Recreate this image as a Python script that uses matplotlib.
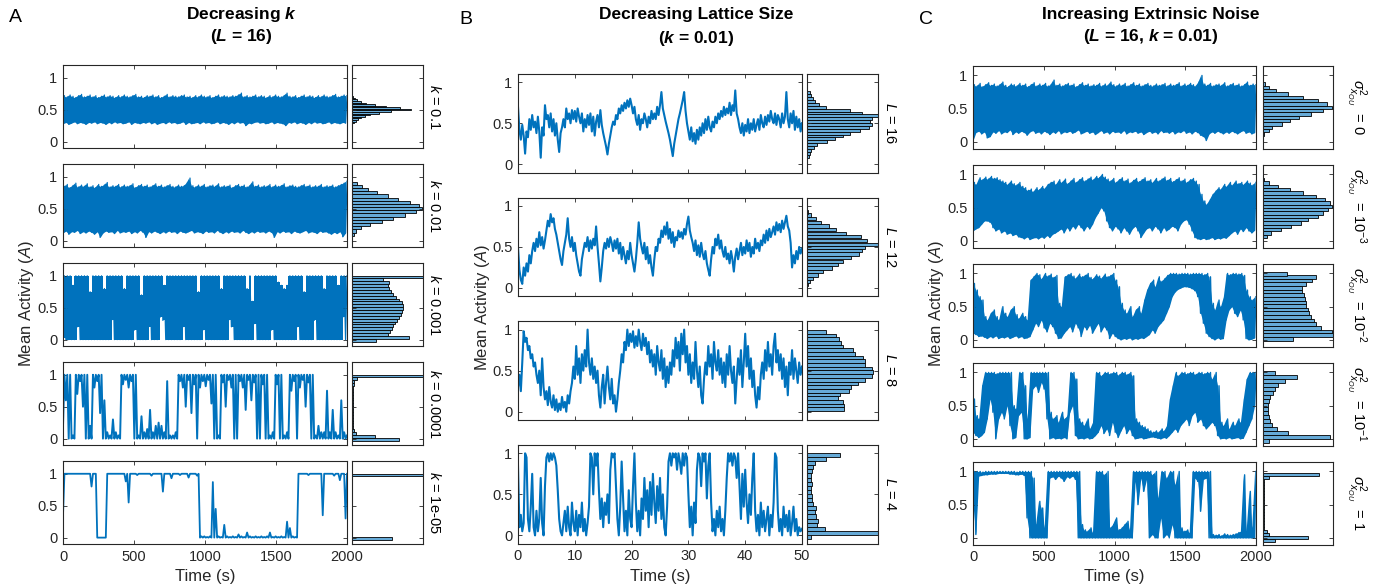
import matplotlib
matplotlib.use('Agg')
import matplotlib.pyplot as plt
import numpy as np

plt.rcParams['font.family'] = ['Liberation Sans', 'DejaVu Sans']
plt.rcParams['mathtext.fontset'] = 'custom'
plt.rcParams['mathtext.rm'] = 'Liberation Sans'
plt.rcParams['mathtext.it'] = 'Liberation Sans:italic'
plt.rcParams['mathtext.bf'] = 'Liberation Sans:bold'
plt.rcParams['mathtext.bfit'] = 'Liberation Sans:bold:italic'

# ---------------- DATA ----------------
# Column A: decreasing k (L = 16); min/max envelope of the trace in 20 s bins (0-2000 s)
A1_lo = [0.28,0.30,0.27,0.29,0.31,0.28,0.30,0.29,0.27,0.30,
         0.29,0.31,0.28,0.30,0.29,0.27,0.30,0.28,0.31,0.29,
         0.30,0.28,0.29,0.31,0.27,0.30,0.29,0.28,0.30,0.29,
         0.31,0.28,0.30,0.27,0.29,0.30,0.28,0.31,0.29,0.30,
         0.28,0.29,0.31,0.27,0.30,0.28,0.29,0.30,0.28,0.31,
         0.29,0.30,0.28,0.29,0.31,0.28,0.30,0.29,0.27,0.30,
         0.28,0.31,0.29,0.30,0.25,0.29,0.28,0.30,0.31,0.29,
         0.30,0.28,0.29,0.31,0.28,0.30,0.29,0.28,0.25,0.30,
         0.29,0.31,0.28,0.30,0.29,0.27,0.30,0.28,0.31,0.29,
         0.30,0.28,0.29,0.31,0.28,0.30,0.29,0.28,0.30,0.29]
A1_hi = [0.72,0.70,0.73,0.71,0.69,0.72,0.74,0.70,0.71,0.73,
         0.70,0.72,0.69,0.71,0.73,0.70,0.72,0.71,0.69,0.72,
         0.70,0.73,0.71,0.70,0.72,0.74,0.70,0.71,0.69,0.72,
         0.71,0.73,0.70,0.72,0.69,0.71,0.74,0.70,0.72,0.71,
         0.70,0.72,0.73,0.70,0.71,0.69,0.72,0.70,0.73,0.71,
         0.70,0.72,0.69,0.71,0.73,0.70,0.72,0.71,0.70,0.72,
         0.71,0.73,0.76,0.70,0.72,0.70,0.71,0.73,0.70,0.72,
         0.71,0.69,0.72,0.70,0.73,0.71,0.70,0.72,0.76,0.71,
         0.70,0.72,0.69,0.71,0.73,0.70,0.72,0.71,0.69,0.72,
         0.70,0.73,0.71,0.70,0.72,0.74,0.70,0.71,0.73,0.72]
A2_lo = [0.12,0.15,0.10,0.14,0.13,0.16,0.11,0.14,0.12,0.15,
         0.13,0.10,0.14,0.05,0.12,0.15,0.13,0.14,0.11,0.16,
         0.12,0.14,0.13,0.15,0.11,0.14,0.12,0.16,0.13,0.05,
         0.14,0.12,0.15,0.13,0.11,0.14,0.12,0.15,0.13,0.14,
         0.11,0.15,0.13,0.12,0.14,0.16,0.12,0.14,0.13,0.11,
         0.15,0.13,0.14,0.12,0.16,0.13,0.11,0.14,0.12,0.15,
         0.13,0.14,0.12,0.16,0.13,0.11,0.14,0.12,0.15,0.13,
         0.14,0.12,0.15,0.13,0.05,0.14,0.12,0.15,0.13,0.14,
         0.11,0.15,0.13,0.12,0.14,0.16,0.12,0.14,0.13,0.11,
         0.15,0.13,0.14,0.12,0.10,0.13,0.11,0.14,0.06,0.12]
A2_hi = [0.85,0.88,0.83,0.86,0.90,0.84,0.87,0.85,0.89,0.84,
         0.86,0.83,0.88,0.85,0.87,0.91,0.84,0.86,0.85,0.88,
         0.84,0.87,0.85,0.86,0.89,0.83,0.86,0.88,0.85,0.87,
         0.84,0.86,0.89,0.85,0.87,0.84,0.86,0.88,0.85,0.84,
         0.87,0.85,0.86,0.90,0.98,0.86,0.84,0.87,0.85,0.88,
         0.84,0.86,0.87,0.85,0.89,0.84,0.86,0.85,0.87,0.83,
         0.86,0.88,0.85,0.87,0.84,0.86,0.92,0.85,0.87,0.84,
         0.86,0.85,0.88,0.84,0.87,0.85,0.86,0.89,0.84,0.86,
         0.87,0.85,0.84,0.86,0.88,0.85,0.87,0.84,0.86,0.85,
         0.88,0.84,0.86,0.85,0.87,0.84,0.86,0.88,0.90,0.93]
A3_lo = [0.02,0,0,0,0,0.2,0,0,0,0,
         0,0,0,0,0,0,0,0.3,0,0,
         0,0,0,0,0,0.15,0,0,0,0,
         0.2,0,0,0,0.35,0.3,0,0,0,0,
         0,0,0.2,0,0,0,0,0,0,0.15,
         0,0,0,0,0,0,0,0,0.3,0.2,
         0,0,0,0,0,0,0,0.25,0,0,
         0,0,0,0.15,0,0,0,0,0,0,
         0,0,0.2,0,0,0,0,0,0.3,0,
         0,0,0,0,0,0,0,0,0.35,0]
A3_hi = [1,1,1,0.85,1,1,1,1,1,0.75,
         1,1,1,1,0.8,1,1,1,1,1,
         1,0.8,1,1,1,1,1,0.7,1,1,
         1,1,1,1,1,0.85,1,1,1,1,
         1,1,1,1,1,1,1,0.75,1,1,
         1,1,1,1,1,0.8,1,1,1,1,
         1,1,1,1,0.8,1,0.6,1,1,1,
         1,1,1,1,1,0.9,0.85,0.8,0.85,1,
         1,1,1,1,0.75,1,1,1,1,1,
         1,0.8,1,1,1,1,0.85,1,1,1]
A4_lo = [0.2,0.6,0.0,0.0,0.0,0.7,0.9,0.5,0.0,0.0,
         0.0,0.8,0.9,0.4,0.0,0.0,0.0,0.0,0.0,0.0,
         0.0,0.85,0.92,0.8,0.9,0.0,0.0,0.0,0.0,0.0,
         0.0,0.0,0.0,0.0,0.0,0.0,0.0,0.0,0.0,0.0,
         0.0,0.9,0.8,0.5,0.92,0.4,0.85,0.0,0.8,0.9,
         0.82,0.92,0.55,0.0,0.0,0.0,0.88,0.5,0.92,0.8,
         0.0,0.0,0.9,0.8,0.45,0.92,0.6,0.88,0.0,0.0,
         0.85,0.0,0.0,0.0,0.0,0.85,0.0,0.0,0.0,0.0,
         0.75,0.9,0.0,0.8,0.92,0.5,0.88,0.0,0.0,0.0,
         0.0,0.0,0.0,0.0,0.0,0.0,0.0,0.0,0.0,0.0]
A4_hi = [1.0,1.0,1.0,0.05,1.0,1.0,1.0,1.0,1.0,0.2,
         1.0,1.0,1.0,1.0,0.6,0.1,0.05,0.3,0.1,0.05,
         1.0,1.0,1.0,1.0,1.0,1.0,0.05,0.35,0.1,0.15,
         0.45,0.1,0.2,0.25,0.2,0.1,0.9,0.05,0.05,0.1,
         1.0,1.0,1.0,1.0,1.0,1.0,1.0,1.0,1.0,1.0,
         1.0,1.0,1.0,1.0,0.05,1.0,1.0,1.0,1.0,1.0,
         1.0,1.0,1.0,1.0,1.0,1.0,1.0,1.0,1.0,1.0,
         1.0,1.0,0.05,0.1,1.0,1.0,1.0,0.05,0.1,1.0,
         1.0,1.0,1.0,1.0,1.0,1.0,1.0,1.0,0.05,0.2,
         0.1,0.1,0.75,0.1,0.45,0.1,0.05,0.6,0.1,0.05]
A5_lo = [0.35,1,1,1,1,1,1,1,1,1,
         0.8,1,0,0,0,0,1,1,1,1,
         1,1,0.88,0.55,1,1,0.98,1,1,1,
         1,0.97,1,1,1,0.72,1,1,0.93,1,
         1,0.98,1,1,0.94,1,1,0.97,0,0,
         0,0,0,0,0,0,0,0,0,0,
         0,0,0,0,0,0,0,0,0,0,
         0,0,0,0,0,0,0,0,0,0,
         0,0,0,1,1,1,0.98,1,1,1,
         1,0.35,1,1,1,0.97,1,0.9,1,0.3]
A5_hi = [1,1,1,1,1,1,1,1,1,1,
         1,1,0,0,0,1,1,1,1,1,
         1,1,1,1,1,1,1,1,1,1,
         1,1,1,1,1,1,1,1,1,1,
         1,1,1,1,1,1,1,1,0.02,0.02,
         0.01,0.02,0.87,0.45,0.02,0.01,0.2,0.02,0.01,0.02,
         0.01,0.05,0.02,0.01,0.08,0.02,0.01,0.02,0.01,0.02,
         0.01,0.02,0.08,0.01,0.02,0.01,0.02,0.01,0.25,0.15,
         0.02,0.01,1,1,1,1,1,1,1,1,
         1,1,1,1,1,1,1,1,1,1]

# Column B: decreasing lattice size (k = 0.01); trace sampled every 0.25 s (0-50 s)
B1_y = [0.70,0.42,0.30,0.48, 0.35,0.13,0.40,0.33, 0.55,0.42,0.60,0.45, 0.52,0.38,0.58,0.40,
        0.08,0.45,0.35,0.72, 0.55,0.60,0.45,0.62, 0.40,0.55,0.35,0.50, 0.30,0.15,0.38,0.45,
        0.55,0.45,0.68,0.55, 0.62,0.50,0.66,0.55, 0.65,0.52,0.68,0.58, 0.50,0.62,0.40,0.55,
        0.45,0.60,0.48,0.62, 0.40,0.58,0.35,0.52, 0.60,0.45,0.66,0.48, 0.38,0.30,0.22,0.12,
        0.25,0.35,0.45,0.52, 0.48,0.60,0.55,0.68, 0.62,0.72,0.65,0.75, 0.68,0.78,0.70,0.80,
        0.72,0.62,0.70,0.55, 0.48,0.60,0.42,0.55, 0.50,0.62,0.55,0.45, 0.58,0.50,0.65,0.55,
        0.62,0.55,0.70,0.60, 0.72,0.88,0.68,0.60, 0.52,0.45,0.38,0.30, 0.20,0.10,0.25,0.35,
        0.45,0.55,0.62,0.70, 0.78,0.88,0.65,0.50, 0.40,0.30,0.45,0.28, 0.38,0.25,0.42,0.30,
        0.45,0.35,0.50,0.38, 0.55,0.42,0.58,0.45, 0.40,0.52,0.45,0.58, 0.50,0.62,0.55,0.65,
        0.58,0.70,0.60,0.68, 0.62,0.75,0.60,0.72, 0.65,0.90,0.62,0.55, 0.45,0.38,0.50,0.35,
        0.48,0.40,0.55,0.38, 0.50,0.42,0.55,0.40, 0.48,0.55,0.42,0.60, 0.50,0.45,0.58,0.48,
        0.60,0.52,0.65,0.55, 0.50,0.62,0.48,0.60, 0.55,0.45,0.62,0.50, 0.58,0.88,0.55,0.45,
        0.62,0.50,0.65,0.42, 0.58,0.45,0.55,0.40,0.50]
B2_y = [0.50,0.22,0.10,0.05, 0.25,0.15,0.30,0.20, 0.40,0.30,0.45,0.55, 0.45,0.60,0.50,0.68,
        0.52,0.62,0.48,0.58, 0.70,0.82,0.75,0.90, 0.80,0.85,0.72,0.65, 0.55,0.45,0.35,0.28,
        0.45,0.55,0.65,0.85, 0.60,0.50,0.62,0.45, 0.55,0.40,0.30,0.20, 0.15,0.35,0.45,0.55,
        0.50,0.62,0.45,0.58, 0.48,0.60,0.52,0.75, 0.50,0.30,0.08,0.25, 0.45,0.55,0.48,0.60,
        0.50,0.62,0.55,0.45, 0.58,0.48,0.60,0.42, 0.55,0.35,0.50,0.40, 0.30,0.45,0.35,0.55,
        0.40,0.30,0.20,0.35, 0.55,0.80,0.60,0.50, 0.42,0.55,0.35,0.50, 0.30,0.40,0.25,0.15,
        0.35,0.50,0.45,0.60, 0.55,0.70,0.62,0.75, 0.65,0.80,0.60,0.72, 0.55,0.68,0.50,0.62,
        0.58,0.70,0.62,0.68, 0.60,0.72,0.65,0.78, 0.87,0.70,0.62,0.55, 0.45,0.58,0.40,0.52,
        0.38,0.55,0.42,0.35, 0.45,0.30,0.22,0.15, 0.35,0.50,0.42,0.60, 0.52,0.65,0.48,0.58,
        0.45,0.38,0.50,0.35, 0.42,0.30,0.45,0.35, 0.20,0.38,0.48,0.35, 0.45,0.55,0.40,0.50,
        0.42,0.58,0.45,0.55, 0.38,0.50,0.42,0.60, 0.48,0.55,0.45,0.58, 0.52,0.65,0.55,0.70,
        0.58,0.72,0.62,0.68, 0.75,0.65,0.80,0.70, 0.78,0.68,0.82,0.72, 0.80,0.88,0.75,0.70,
        0.55,0.25,0.40,0.30, 0.45,0.35,0.50,0.42,0.48]
B3_y = [0.30,0.45,0.25,0.60, 0.98,0.85,0.90,0.75, 0.80,0.65,0.70,0.55, 0.60,0.45,0.35,0.50,
        0.20,0.65,0.30,0.15, 0.25,0.08,0.30,0.12, 0.05,0.20,0.02,0.15, 0.00,0.10,0.02,0.18,
        0.05,0.12,0.00,0.20, 0.10,0.25,0.35,0.55, 0.40,0.80,0.45,0.65, 0.35,0.70,0.50,0.75,
        0.55,1.00,0.60,0.45, 0.65,0.40,0.55,0.35, 0.50,0.20,0.05,0.30, 0.45,0.10,0.35,0.55,
        0.30,0.15,0.40,0.10, 0.20,0.00,0.15,0.35, 0.50,0.70,0.60,0.85, 0.75,1.00,0.80,0.95,
        0.85,0.98,0.78,0.92, 0.80,1.00,0.85,0.75, 0.95,0.80,0.90,0.70, 0.85,0.60,0.75,0.55,
        0.70,0.45,0.80,0.60, 0.50,0.75,0.40,0.65, 0.30,0.55,0.35,0.60, 0.45,0.75,0.55,0.90,
        0.65,0.85,0.50,0.95, 0.70,1.00,0.60,0.80, 0.45,0.70,0.35,0.60, 0.40,0.85,0.50,0.30,
        0.55,0.20,0.10,0.40, 0.60,0.45,0.80,0.55, 0.70,0.40,0.85,0.60, 0.50,0.75,0.45,0.65,
        0.35,0.60,0.30,0.70, 0.45,0.80,0.50,0.35, 0.55,0.10,0.40,0.65, 0.45,0.75,0.30,0.60,
        0.95,0.55,0.80,0.40, 0.65,0.30,0.50,0.20, 0.05,0.30,0.15,0.45, 0.60,0.40,0.75,0.50,
        0.85,0.55,0.70,0.45, 0.80,0.95,0.60,0.75, 0.50,0.70,0.40,0.65, 0.30,0.55,0.20,0.60,
        0.45,0.75,0.40,0.65, 0.50,0.35,0.60,0.45,0.55]
B4_y = [0.85,0.10,0.25,0.05, 0.15,1.00,0.95,0.20, 0.05,0.35,0.75,0.10, 0.00,0.30,0.05,0.20,
        0.70,0.15,0.00,0.60, 0.95,1.00,0.90,1.00, 0.92,1.00,0.95,0.85, 0.55,0.20,0.05,0.00,
        0.15,0.30,0.05,0.35, 0.10,0.00,0.40,0.15, 0.05,0.30,0.00,0.25, 0.10,0.40,0.05,0.20,
        0.00,0.15,0.35,1.00, 0.95,0.50,1.00,0.85, 1.00,0.55,0.20,0.45, 0.10,0.40,0.25,0.50,
        0.15,0.80,1.00,0.95, 1.00,0.60,0.20,0.00, 0.35,0.90,0.45,0.05, 0.30,0.00,0.55,0.20,
        0.10,0.60,1.00,0.40, 0.05,0.30,0.00,0.45, 0.20,0.70,0.30,0.55, 0.10,0.65,0.25,0.75,
        0.40,0.15,0.60,0.30, 0.70,0.20,0.50,0.10, 0.00,0.35,0.90,1.00, 0.85,1.00,0.95,1.00,
        0.80,1.00,0.90,0.75, 1.00,0.85,1.00,0.95, 0.50,0.10,0.35,0.00, 0.40,0.15,0.80,1.00,
        0.95,0.60,1.00,0.90, 1.00,0.45,0.85,1.00, 0.40,0.05,0.20,0.00, 0.30,0.10,0.35,0.05,
        0.20,0.00,0.30,0.70, 1.00,0.90,1.00,0.85, 1.00,0.95,0.70,1.00, 0.60,0.20,0.75,0.35,
        0.80,0.40,0.15,0.50, 0.25,0.70,1.00,0.30, 0.05,0.25,0.00,0.40, 0.10,0.30,0.05,0.20,
        0.35,0.00,0.25,0.10, 0.40,1.00,0.95,0.30, 0.05,0.20,0.00,0.35, 0.10,0.25,0.05,0.30,
        0.00,0.15,0.35,0.05, 0.20,0.00,0.10,0.05,0.08]

# Column C: increasing extrinsic noise (L = 16, k = 0.01); envelope in 20 s bins
C1_lo = [0.02,0.14,0.16,0.12,0.15,0.06,0.08,0.15,0.13,0.17,
         0.12,0.15,0.14,0.18,0.11,0.15,0.13,0.16,0.14,0.10,
         0.15,0.17,0.13,0.15,0.12,0.16,0.14,0.11,0.15,0.13,
         0.17,0.12,0.15,0.14,0.16,0.13,0.15,0.18,0.12,0.14,
         0.16,0.13,0.15,0.11,0.14,0.17,0.13,0.15,0.12,0.16,
         0.14,0.15,0.13,0.17,0.12,0.15,0.14,0.16,0.13,0.15,
         0.11,0.14,0.16,0.13,0.15,0.12,0.17,0.14,0.15,0.13,
         0.16,0.12,0.15,0.14,0.17,0.13,0.15,0.12,0.16,0.14,
         0.10,0.08,0.02,0.12,0.15,0.13,0.16,0.14,0.12,0.15,
         0.13,0.16,0.14,0.12,0.15,0.17,0.13,0.15,0.12,0.14]
C1_hi = [0.86,0.84,0.88,0.83,0.86,0.89,0.85,0.87,0.84,0.86,
         0.90,0.85,0.83,0.87,0.86,0.84,0.88,0.85,0.87,0.83,
         0.86,0.89,0.84,0.87,0.85,0.88,0.84,0.86,0.93,0.85,
         0.87,0.84,0.86,0.88,0.85,0.87,0.83,0.86,0.89,0.85,
         0.87,0.84,0.86,0.85,0.88,0.84,0.87,0.85,0.90,0.86,
         0.84,0.87,0.85,0.88,0.84,0.86,0.89,0.85,0.87,0.84,
         0.86,0.88,0.85,0.84,0.87,0.85,0.86,0.88,0.84,0.87,
         0.85,0.86,0.89,0.84,0.87,0.85,0.88,0.86,0.84,0.90,
         1.00,0.87,0.85,0.88,0.84,0.86,0.87,0.85,0.89,0.84,
         0.86,0.88,0.85,0.87,0.84,0.86,0.90,0.85,0.87,0.86]
C2_lo = [0.15,0.18,0.20,0.25,0.30,0.30,0.28,0.20,0.15,0.18,
         0.12,0.15,0.10,0.12,0.08,0.10,0.06,0.05,0.03,0.06,
         0.02,0.04,0.05,0.03,0.06,0.04,0.08,0.05,0.10,0.12,
         0.15,0.18,0.12,0.20,0.15,0.22,0.18,0.25,0.20,0.15,
         0.22,0.18,0.25,0.35,0.42,0.50,0.45,0.30,0.20,0.15,
         0.22,0.18,0.12,0.20,0.15,0.10,0.18,0.22,0.15,0.05,
         0.12,0.18,0.20,0.15,0.22,0.18,0.12,0.20,0.15,0.18,
         0.22,0.20,0.15,0.25,0.30,0.32,0.25,0.15,0.05,0.03,
         0.02,0.04,0.02,0.03,0.05,0.02,0.04,0.03,0.05,0.04,
         0.08,0.12,0.15,0.10,0.18,0.14,0.20,0.15,0.12,0.16]
C2_hi = [0.88,0.85,0.95,0.92,0.96,0.93,0.97,0.94,0.95,0.92,
         0.90,0.88,0.85,0.90,0.86,0.84,0.88,0.82,0.80,0.76,
         0.78,0.74,0.80,0.77,0.82,0.79,0.85,0.88,0.90,0.85,
         0.92,0.88,0.93,0.86,0.90,0.94,0.88,0.92,0.95,0.90,
         0.93,0.96,0.92,0.97,0.95,1.00,0.96,0.93,0.90,0.94,
         0.88,0.92,0.95,0.90,0.93,0.87,0.91,0.94,0.89,0.92,
         0.95,0.90,0.92,0.88,0.94,0.90,0.93,0.96,0.91,0.94,
         0.89,0.92,0.95,0.90,0.93,0.88,0.92,0.94,0.90,0.85,
         0.70,0.60,0.55,0.62,0.70,0.75,0.80,0.78,0.85,0.82,
         0.88,0.84,0.90,0.86,0.88,0.85,0.90,0.87,0.84,0.88]
C3_lo = [0.10,0.08,0.05,0.06,0.04,0.02,0.05,0.03,0.06,0.02,
         0.04,0.03,0.05,0.02,0.04,0.06,0.03,0.05,0.02,0.03,
         0.05,0.15,0.25,0.20,0.30,0.18,0.12,0.25,0.20,0.10,
         0.02,0.03,0.10,0.15,0.20,0.12,0.25,0.18,0.05,0.20,
         0.15,0.22,0.10,0.18,0.25,0.12,0.20,0.15,0.02,0.10,
         0.05,0.02,0.00,0.02,0.01,0.03,0.00,0.02,0.01,0.03,
         0.02,0.05,0.08,0.15,0.10,0.20,0.25,0.30,0.40,0.50,
         0.65,0.72,0.76,0.78,0.80,0.80,0.79,0.77,0.74,0.65,
         0.40,0.25,0.10,0.05,0.02,0.00,0.03,0.01,0.02,0.30,
         0.45,0.50,0.40,0.35,0.45,0.30,0.02,0.00,0.01,0.03]
C3_hi = [0.85,0.75,0.65,0.60,0.35,0.30,0.40,0.45,0.35,0.30,
         0.50,0.40,0.35,0.45,0.50,0.38,0.32,0.40,0.35,0.30,
         0.90,0.95,1.00,0.98,0.92,1.00,0.96,0.99,0.94,0.97,
         0.55,0.50,0.95,0.98,1.00,0.96,0.93,0.99,0.95,0.97,
         1.00,0.94,0.92,0.98,0.96,0.93,0.99,0.95,0.97,1.00,
         0.90,0.80,0.55,0.45,0.40,0.50,0.35,0.45,0.50,0.40,
         0.60,0.75,0.85,0.90,0.80,0.95,0.88,0.92,0.97,1.00,
         1.00,1.00,0.99,1.00,1.00,1.00,0.99,1.00,1.00,1.00,
         1.00,0.98,1.00,0.95,0.55,0.45,0.60,0.50,0.65,1.00,
         0.98,1.00,1.00,0.99,1.00,0.97,0.75,0.65,0.60,0.65]
C4_lo = [0.10,0.05,0.02,0.05,0.10,0.30,0.60,0.40,0.00,0.30,
         0.40,0.30,0.50,0.20,0.00,0.02,0.35,0.40,0.00,0.00,
         0.02,0.75,0.80,0.70,0.85,0.75,0.30,0.00,0.02,0.00,
         0.01,0.00,0.02,0.00,0.40,0.50,0.05,0.00,0.01,0.00,
         0.02,0.00,0.01,0.05,0.10,0.20,0.08,0.15,0.05,0.25,
         0.10,0.02,0.12,0.20,0.08,0.15,0.05,0.00,0.01,0.02,
         0.00,0.01,0.02,0.03,0.02,0.01,0.00,0.02,0.01,0.05,
         0.10,0.15,0.10,0.20,0.25,0.30,0.20,0.35,0.40,0.25,
         0.30,0.20,0.15,0.20,0.25,0.20,0.05,0.00,0.01,0.00,
         0.02,0.00,0.01,0.02,0.00,0.01,0.10,0.20,0.30,0.50]
C4_hi = [0.60,0.35,0.30,0.80,1.00,1.00,1.00,1.00,0.98,1.00,
         1.00,1.00,1.00,1.00,0.50,0.45,1.00,1.00,0.80,0.30,
         1.00,1.00,1.00,1.00,1.00,1.00,1.00,0.40,0.30,0.35,
         0.25,0.40,0.30,0.35,1.00,1.00,0.90,0.30,0.25,0.20,
         0.30,0.15,0.25,1.00,1.00,0.95,1.00,1.00,0.98,1.00,
         1.00,0.96,1.00,1.00,0.97,1.00,0.95,0.30,0.25,0.20,
         0.18,0.15,0.12,0.10,0.12,0.10,0.15,0.12,0.20,0.60,
         0.80,1.00,0.95,1.00,1.00,0.98,1.00,1.00,0.97,1.00,
         1.00,0.98,1.00,1.00,0.90,1.00,0.80,0.25,0.20,0.30,
         0.15,0.25,0.20,0.30,0.25,0.60,0.90,1.00,1.00,1.00]
C5_lo = [0.50,0.05,0.93,0.94,0.95,0.95,0.96,0.96,0.96,0.97,
         0.97,0.97,0.97,0.96,0.96,0.95,0.95,0.96,0.94,0.30,
         0.00,0.00,0.00,0.00,0.00,0.00,0.00,0.90,0.92,0.88,
         0.93,0.90,0.85,0.92,0.90,0.93,0.88,0.00,0.00,0.00,
         0.00,0.00,0.00,0.00,0.00,0.00,0.00,0.00,0.00,0.00,
         0.00,0.00,0.00,0.00,0.00,0.00,0.00,0.85,0.50,0.90,
         0.70,0.88,0.00,0.05,0.00,0.00,0.30,0.00,0.05,0.00,
         0.20,0.00,0.00,0.00,0.00,0.00,0.00,0.00,0.90,0.85,
         0.40,0.88,0.90,0.00,0.00,0.00,0.00,0.00,0.00,0.00,
         0.00,0.00,0.00,0.00,0.00,0.00,0.00,0.00,0.00,0.00]
C5_hi = [1.00,1.00,1.00,0.99,1.00,1.00,1.00,1.00,1.00,1.00,
         1.00,1.00,1.00,1.00,1.00,0.99,1.00,1.00,1.00,1.00,
         1.00,0.90,0.20,0.55,0.45,0.15,1.00,1.00,1.00,1.00,
         1.00,1.00,1.00,1.00,1.00,1.00,1.00,1.00,0.20,0.12,
         0.10,0.15,0.08,1.00,1.00,1.00,0.95,1.00,0.15,0.20,
         0.30,0.12,0.15,0.20,0.25,0.12,1.00,1.00,1.00,1.00,
         1.00,1.00,1.00,0.95,1.00,0.60,1.00,1.00,0.90,1.00,
         1.00,0.80,1.00,0.15,0.10,0.12,0.08,1.00,1.00,1.00,
         1.00,1.00,1.00,1.00,0.05,0.04,0.05,0.03,0.06,0.05,
         0.04,0.05,0.06,0.08,0.10,0.95,0.10,0.70,0.15,1.00]

# Histograms: bin centres (activity) and bar lengths (relative counts)
A1_hc = [0.30,0.325,0.35,0.375,0.40,0.425,0.45,0.475,0.50,0.525,0.55,0.575,0.60,0.625,0.65,0.675,0.70]
A1_hn = [0.03,0.05,0.08,0.12,0.18,0.26,0.38,0.55,0.83,0.68,0.48,0.32,0.20,0.12,0.07,0.04,0.02]
A2_hc = [0.10,0.15,0.20,0.25,0.30,0.35,0.40,0.45,0.50,0.55,0.60,0.65,0.70,0.75,0.80,0.85,0.90]
A2_hn = [0.03,0.06,0.13,0.25,0.42,0.58,0.75,0.90,0.99,0.94,0.82,0.65,0.50,0.35,0.22,0.14,0.07]
A345_hc = [-0.01,0.035,0.08,0.125,0.17,0.215,0.26,0.305,0.35,0.395,0.44,0.485,
           0.53,0.575,0.62,0.665,0.71,0.755,0.80,0.845,0.89,0.935,0.98]
A3_hn = [0.34,0.80,0.50,0.53,0.56,0.58,0.61,0.63,0.66,0.69,0.71,0.72,
         0.72,0.70,0.66,0.62,0.58,0.55,0.52,0.50,0.52,0.44,1.00]
A4_hn = [0.66,0.32,0.05,0.03,0.02,0.02,0.02,0.02,0.02,0.02,0.02,0.02,
         0.02,0.02,0.02,0.02,0.02,0.02,0.02,0.03,0.03,0.07,1.00]
A5_hn = [0.56,0.00,0.00,0.00,0.00,0.00,0.00,0.00,0.00,0.00,0.00,0.00,
         0.00,0.00,0.00,0.00,0.00,0.00,0.00,0.00,0.00,0.00,1.00]
B1_hc = [0.10,0.135,0.17,0.205,0.24,0.275,0.31,0.345,0.38,0.415,0.45,0.485,
         0.52,0.555,0.59,0.625,0.66,0.695,0.73,0.765,0.80,0.835,0.87]
B1_hn = [0.03,0.04,0.06,0.10,0.14,0.28,0.40,0.50,0.60,0.74,0.88,0.91,
         0.89,0.91,1.00,0.77,0.60,0.27,0.17,0.11,0.08,0.06,0.04]
B2_hc = [0.04,0.08,0.12,0.16,0.20,0.245,0.285,0.325,0.375,0.415,0.455,
         0.49,0.53,0.575,0.625,0.665,0.71,0.755,0.80,0.845,0.89,0.925]
B2_hn = [0.01,0.04,0.09,0.15,0.23,0.35,0.44,0.51,0.62,0.73,0.77,
         0.81,1.00,0.85,0.76,0.55,0.41,0.31,0.20,0.13,0.05,0.02]
B3_hc = [0.03,0.075,0.12,0.165,0.21,0.255,0.30,0.345,0.39,0.435,0.48,
         0.525,0.57,0.615,0.66,0.705,0.75,0.795,0.84,0.885,0.93,0.975]
B3_hn = [0.52,0.52,0.51,0.44,0.46,0.59,0.62,0.72,0.81,0.91,0.93,
         0.91,0.81,0.82,0.79,0.67,0.65,0.51,0.48,0.45,0.41,0.27]
B4_hc = [-0.02,0.03,0.08,0.13,0.18,0.23,0.28,0.33,0.38,0.43,0.48,
         0.53,0.58,0.63,0.68,0.73,0.78,0.83,0.88,0.93,0.98]
B4_hn = [0.05,1.00,0.26,0.14,0.15,0.13,0.11,0.12,0.09,0.07,0.07,
         0.06,0.06,0.07,0.06,0.06,0.07,0.08,0.11,0.27,0.47]
C1_hc = [0.12,0.17,0.22,0.27,0.32,0.37,0.42,0.47,0.52,0.57,0.62,0.67,0.72,0.77,0.82,0.87]
C1_hn = [0.02,0.08,0.13,0.27,0.38,0.52,0.68,0.86,0.98,0.92,0.78,0.57,0.36,0.18,0.08,0.03]
C2_hc = [0.07,0.12,0.17,0.22,0.27,0.32,0.37,0.42,0.47,0.52,0.57,0.62,0.67,0.72,0.77,0.82,0.87,0.92]
C2_hn = [0.06,0.12,0.26,0.40,0.54,0.64,0.78,0.86,0.93,0.99,0.96,0.88,0.76,0.57,0.38,0.22,0.08,0.02]
C3_hc = [0.015,0.07,0.125,0.18,0.235,0.29,0.345,0.40,0.455,0.51,
         0.565,0.62,0.675,0.73,0.785,0.84,0.895,0.945,0.995]
C3_hn = [0.43,1.00,0.98,0.83,0.76,0.73,0.69,0.66,0.64,0.62,
         0.61,0.60,0.59,0.56,0.55,0.61,0.70,0.76,0.34]
C4_hc = [-0.03,0.03,0.09,0.15,0.21,0.27,0.33,0.39,0.45,0.51,0.57,0.63,0.69,0.75,0.81,0.87,0.93,0.99]
C4_hn = [0.08,0.95,0.36,0.20,0.13,0.10,0.09,0.07,0.07,0.07,0.08,0.10,0.14,0.17,0.22,0.31,0.48,0.17]
C5_hc = [-0.035,0.01,0.055,0.10,0.145,0.19,0.235,0.28,0.325,0.37,0.415,0.46,
         0.505,0.55,0.595,0.64,0.685,0.73,0.775,0.82,0.865,0.91,0.955]
C5_hn = [0.17,0.64,0.09,0.06,0.02,0.01,0.01,0.01,0.01,0.01,0.01,0.01,
         0.01,0.01,0.01,0.01,0.01,0.01,0.01,0.01,0.02,0.09,0.80]

A_labels = ['0.1', '0.01', '0.001', '0.0001', '1e-05']
B_labels = ['16', '12', '8', '4']
C_labels = ['0', '10$^{-3}$', '10$^{-2}$', '10$^{-1}$', '1']

# ---------------- STYLE / LAYOUT ----------------
W, H = 1387, 588
fig = plt.figure(figsize=(W / 100, H / 100), dpi=100)
LINE = '#0072BD'
BARC = '#66AAD7'
AXC = '#262626'
TICK_FS = 10.5
TITLE_FS = 12.5
AXLAB_FS = 12
SIDE_FS = 10.5


def px_axes(x0, y0, x1, y1):
    return fig.add_axes([x0 / W, 1 - y1 / H, (x1 - x0) / W, (y1 - y0) / H])


def style(ax):
    for s in ax.spines.values():
        s.set_color(AXC)
        s.set_linewidth(0.8)
    ax.tick_params(direction='in', length=3, width=0.6, colors=AXC,
                   labelsize=TICK_FS, top=True, right=True, pad=4)


def draw_env(ax, lo, hi, tmax, fill, lw=0.9):
    lo = np.asarray(lo, float)
    hi = np.asarray(hi, float)
    n = len(lo)
    x = np.linspace(0, tmax, 2 * n)
    y = np.empty(2 * n)
    y[0::2] = lo
    y[1::2] = hi
    if fill == 'step':
        ax.fill_between(x[0::2], lo, hi, step='post', color=LINE, linewidth=0)
    elif fill:
        ax.fill_between(x[0::2], lo, hi, color=LINE, linewidth=0)
    ax.plot(x, y, color=LINE, lw=lw)


def draw_seq(ax, y, tmax):
    x = np.linspace(0, tmax, len(y))
    ax.plot(x, y, color=LINE, lw=1.5)


def draw_hist(ax, centers, counts, ylim):
    c = np.asarray(centers, float)
    h = np.median(np.diff(c))
    ax.barh(c, counts, height=h, color=BARC, edgecolor='black', linewidth=0.6)
    ax.set_xlim(0, 1)
    ax.set_ylim(*ylim)
    ax.set_xticks([])
    ax.set_yticks([0, 0.5, 1])
    style(ax)
    ax.tick_params(labelleft=False, labelbottom=False, top=False, bottom=False)


def ts_axes(ax, tmax, xt, ylim, bottom):
    ax.set_xlim(0, tmax)
    ax.set_ylim(*ylim)
    ax.set_xticks(xt)
    ax.set_yticks([0, 0.5, 1])
    ax.set_yticklabels(['0', '0.5', '1'])
    style(ax)
    if not bottom:
        ax.tick_params(labelbottom=False)


# ----- Column A -----
A_env = [(A1_lo, A1_hi, True, 0.9), (A2_lo, A2_hi, True, 0.9), (A3_lo, A3_hi, 'step', 0.9),
         (A4_lo, A4_hi, False, 1.4), (A5_lo, A5_hi, False, 1.3)]
A_hist = [(A1_hc, A1_hn), (A2_hc, A2_hn), (A345_hc, A3_hn), (A345_hc, A4_hn), (A345_hc, A5_hn)]
ylA = (-0.1, 1.2)
for i in range(5):
    top = 65 + 99.0 * i
    bot = top + 83
    ax = px_axes(63, top, 347, bot)
    lo, hi, f, lw = A_env[i]
    draw_env(ax, lo, hi, 2000, f, lw)
    ts_axes(ax, 2000, [0, 500, 1000, 1500, 2000], ylA, i == 4)
    hx = px_axes(352, top, 423, bot)
    draw_hist(hx, A_hist[i][0], A_hist[i][1], ylA)
    fig.text(435 / W, 1 - (top + bot) / 2 / H, '$k$ = ' + A_labels[i], rotation=270,
             ha='center', va='center', fontsize=SIDE_FS, color='black')

# ----- Column B -----
B_seq = [B1_y, B2_y, B3_y, B4_y]
B_hist = [(B1_hc, B1_hn), (B2_hc, B2_hn), (B3_hc, B3_hn), (B4_hc, B4_hn)]
ylB = (-0.1, 1.1)
for i in range(4):
    top = 74 + 123.7 * i
    bot = top + 98.5
    ax = px_axes(518, top, 802, bot)
    draw_seq(ax, B_seq[i], 50)
    ts_axes(ax, 50, [0, 10, 20, 30, 40, 50], ylB, i == 3)
    hx = px_axes(807, top, 878, bot)
    draw_hist(hx, B_hist[i][0], B_hist[i][1], ylB)
    fig.text(890 / W, 1 - (top + bot) / 2 / H, '$L$ = ' + B_labels[i], rotation=270,
             ha='center', va='center', fontsize=SIDE_FS, color='black')

# ----- Column C -----
C_env = [(C1_lo, C1_hi), (C2_lo, C2_hi), (C3_lo, C3_hi), (C4_lo, C4_hi), (C5_lo, C5_hi)]
C_hist = [(C1_hc, C1_hn), (C2_hc, C2_hn), (C3_hc, C3_hn), (C4_hc, C4_hn), (C5_hc, C5_hn)]
ylC = (-0.1, 1.15)
for i in range(5):
    top = 65.5 + 99.0 * i
    bot = top + 83
    ax = px_axes(973, top, 1256, bot)
    draw_env(ax, C_env[i][0], C_env[i][1], 2000, True, 1.0)
    ts_axes(ax, 2000, [0, 500, 1000, 1500, 2000], ylC, i == 4)
    hx = px_axes(1263, top, 1333, bot)
    draw_hist(hx, C_hist[i][0], C_hist[i][1], ylC)
    fig.text(1356 / W, 1 - (top + bot) / 2 / H,
             r'$\sigma^2_{x_{OU}}$  = ' + C_labels[i], rotation=270,
             ha='center', va='center', fontsize=SIDE_FS, color='black')

# ----- Titles, panel letters, axis labels -----
def ftext(x, y, s, **kw):
    fig.text(x / W, 1 - y / H, s, **kw)

ftext(15, 18, 'A', fontsize=14, ha='center', va='center')
ftext(466, 19, 'B', fontsize=14, ha='center', va='center')
ftext(926, 19, 'C', fontsize=14, ha='center', va='center')

ftext(241, 15, r'Decreasing $\mathbfit{k}$', fontsize=TITLE_FS, fontweight='bold', ha='center', va='center')
ftext(241, 36, r'($\mathbfit{L}$ = 16)', fontsize=TITLE_FS, fontweight='bold', ha='center', va='center')
ftext(696, 15, 'Decreasing Lattice Size', fontsize=TITLE_FS, fontweight='bold', ha='center', va='center')
ftext(696, 38, r'($\mathbfit{k}$ = 0.01)', fontsize=TITLE_FS, fontweight='bold', ha='center', va='center')
ftext(1151, 15, 'Increasing Extrinsic Noise', fontsize=TITLE_FS, fontweight='bold', ha='center', va='center')
ftext(1151, 36, r'($\mathbfit{L}$ = 16, $\mathbfit{k}$ = 0.01)', fontsize=TITLE_FS, fontweight='bold', ha='center', va='center')

for xc in (205, 660, 1114):
    ftext(xc, 577, 'Time (s)', fontsize=AXLAB_FS, ha='center', va='center', color=AXC)
for xc, yc in ((26, 304), (482, 308), (936, 304)):
    ftext(xc, yc, r'Mean Activity ($\mathit{A}$)', fontsize=AXLAB_FS, ha='center', va='center',
          rotation=90, color=AXC)

fig.savefig('out.png', dpi=100)
